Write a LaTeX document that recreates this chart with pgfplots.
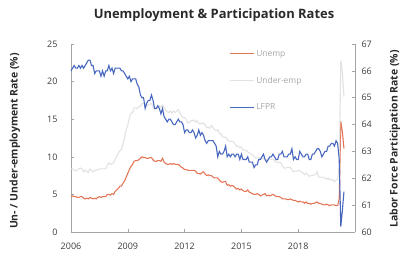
\documentclass[border=0pt]{standalone}
\usepackage{pgfplots}
\usepackage{pgfplotstable}
\pgfplotsset{compat=1.18}
\usepackage{fontspec}
\setmainfont{Open Sans}

\definecolor{unempc}{RGB}{228,118,88}
\definecolor{uempc}{RGB}{226,226,226}
\definecolor{lfprc}{RGB}{72,104,192}
\definecolor{axgray}{RGB}{165,165,165}
\definecolor{txtgray}{RGB}{60,60,60}

% monthly, Jan 2006 - Jun 2020
\pgfplotstableread[row sep=\\]{
v\\
4.7\\4.8\\4.7\\4.7\\4.6\\4.6\\4.7\\4.7\\4.5\\4.4\\4.5\\4.4\\
4.6\\4.5\\4.4\\4.5\\4.4\\4.6\\4.7\\4.6\\4.7\\4.7\\4.7\\5.0\\
5.0\\4.9\\5.1\\5.0\\5.4\\5.6\\5.8\\6.1\\6.1\\6.5\\6.8\\7.3\\
7.8\\8.3\\8.7\\9.0\\9.4\\9.5\\9.5\\9.6\\9.8\\10.0\\9.9\\9.9\\
9.8\\9.8\\9.9\\9.9\\9.6\\9.4\\9.4\\9.5\\9.5\\9.4\\9.8\\9.3\\
9.1\\9.0\\9.0\\9.1\\9.0\\9.1\\9.0\\9.0\\9.0\\8.8\\8.6\\8.5\\
8.3\\8.3\\8.2\\8.2\\8.2\\8.2\\8.2\\8.1\\7.8\\7.8\\7.7\\7.9\\
8.0\\7.7\\7.5\\7.6\\7.5\\7.5\\7.3\\7.2\\7.2\\7.2\\6.9\\6.7\\
6.6\\6.7\\6.7\\6.2\\6.3\\6.1\\6.2\\6.1\\5.9\\5.7\\5.8\\5.6\\
5.7\\5.5\\5.4\\5.4\\5.6\\5.3\\5.2\\5.1\\5.0\\5.0\\5.1\\5.0\\
4.8\\4.9\\5.0\\5.1\\4.8\\4.9\\4.8\\4.9\\5.0\\4.9\\4.7\\4.7\\
4.7\\4.6\\4.4\\4.4\\4.4\\4.3\\4.3\\4.4\\4.3\\4.2\\4.2\\4.1\\
4.0\\4.1\\4.0\\4.0\\3.8\\4.0\\3.8\\3.8\\3.7\\3.8\\3.8\\3.9\\
4.0\\3.8\\3.8\\3.7\\3.6\\3.6\\3.7\\3.6\\3.5\\3.6\\3.6\\3.6\\
3.5\\3.5\\4.4\\14.7\\13.3\\11.1\\
}\unemp

\pgfplotstableread[row sep=\\]{
v\\
8.4\\8.4\\8.2\\8.1\\8.2\\8.4\\8.5\\8.4\\8.0\\8.2\\8.1\\7.9\\
8.4\\8.2\\8.0\\8.2\\8.2\\8.3\\8.4\\8.4\\8.4\\8.4\\8.4\\8.8\\
9.2\\9.0\\9.1\\9.2\\9.7\\10.1\\10.5\\10.8\\11.0\\11.8\\12.6\\13.6\\
14.2\\15.2\\15.8\\15.9\\16.5\\16.5\\16.4\\16.7\\16.7\\17.1\\17.1\\17.1\\
16.7\\16.9\\17.0\\17.1\\16.6\\16.4\\16.4\\16.5\\16.8\\16.6\\16.9\\16.6\\
16.2\\16.0\\15.9\\16.1\\15.8\\16.1\\15.9\\16.1\\16.3\\15.8\\15.5\\15.2\\
15.2\\15.0\\14.5\\14.6\\14.8\\14.8\\14.9\\14.6\\14.8\\14.4\\14.4\\14.4\\
14.5\\14.2\\13.9\\13.9\\13.8\\14.2\\13.9\\13.6\\13.5\\13.6\\13.1\\13.1\\
12.7\\12.6\\12.6\\12.3\\12.1\\12.0\\12.1\\12.0\\11.7\\11.4\\11.4\\11.2\\
11.3\\10.9\\10.9\\10.8\\10.7\\10.5\\10.4\\10.3\\10.0\\9.8\\9.9\\9.9\\
9.8\\9.7\\9.8\\9.7\\9.6\\9.6\\9.7\\9.7\\9.7\\9.5\\9.3\\9.2\\
9.3\\9.2\\8.8\\8.5\\8.5\\8.6\\8.6\\8.6\\8.3\\8.0\\8.1\\8.1\\
8.2\\8.1\\8.0\\7.9\\7.6\\7.8\\7.6\\7.4\\7.5\\7.5\\7.6\\7.6\\
8.0\\7.3\\7.3\\7.3\\7.2\\7.2\\7.0\\7.2\\6.9\\7.0\\6.9\\6.7\\
6.9\\7.0\\8.7\\22.8\\21.2\\18.0\\
}\underemp

\pgfplotstableread[row sep=\\]{
v\\
66.0\\66.1\\66.2\\66.1\\66.1\\66.2\\66.1\\66.2\\66.1\\66.2\\66.3\\66.4\\
66.4\\66.2\\66.2\\65.9\\66.0\\66.0\\66.0\\65.8\\66.0\\65.8\\66.0\\66.0\\
66.2\\66.0\\66.1\\65.9\\66.1\\66.1\\66.1\\66.1\\66.0\\66.0\\65.9\\65.8\\
65.7\\65.8\\65.6\\65.7\\65.7\\65.7\\65.5\\65.4\\65.1\\65.0\\65.0\\64.6\\
64.8\\64.9\\64.9\\65.1\\64.9\\64.6\\64.6\\64.7\\64.6\\64.4\\64.6\\64.3\\
64.2\\64.1\\64.2\\64.2\\64.1\\64.0\\64.0\\64.1\\64.2\\64.1\\64.1\\64.0\\
63.7\\63.8\\63.8\\63.7\\63.7\\63.8\\63.7\\63.5\\63.6\\63.8\\63.6\\63.7\\
63.6\\63.4\\63.3\\63.4\\63.4\\63.4\\63.4\\63.3\\63.2\\62.8\\63.0\\62.9\\
62.9\\63.0\\63.2\\62.8\\62.9\\62.8\\62.9\\62.9\\62.8\\62.9\\62.9\\62.7\\
62.9\\62.7\\62.7\\62.7\\62.8\\62.6\\62.6\\62.6\\62.4\\62.5\\62.5\\62.7\\
62.7\\62.8\\62.9\\62.7\\62.6\\62.7\\62.8\\62.8\\62.9\\62.8\\62.7\\62.7\\
62.9\\62.9\\63.0\\62.8\\62.8\\62.8\\62.9\\62.9\\63.1\\62.7\\62.8\\62.7\\
62.7\\63.0\\62.9\\62.8\\62.8\\62.9\\62.9\\62.7\\62.7\\62.9\\62.9\\63.0\\
63.1\\63.1\\63.0\\62.8\\62.9\\63.0\\63.0\\63.2\\63.2\\63.3\\63.3\\63.2\\
63.4\\63.3\\62.7\\60.2\\60.8\\61.5\\
}\lfpr

\begin{document}
\begin{tikzpicture}
\pgfplotsset{
  every axis/.append style={
    scale only axis, width=284bp, height=188bp,
    xmin=2006, xmax=2021,
    axis line style={axgray, line width=0.8pt},
    tick style={axgray, line width=0.6pt},
    major tick length=3bp,
    tick label style={font=\fontsize{9}{10}\selectfont, text=txtgray},
    /pgf/number format/assume math mode=true,
    /pgf/number format/1000 sep={},
    clip=false,
  }
}
\begin{axis}[
  ymin=0, ymax=25,
  axis x line*=bottom, axis y line*=left,
  ytick={0,5,10,15,20,25},
  xtick={2006,2009,2012,2015,2018},
  xticklabel style={yshift=-7bp},
  yticklabel style={xshift=-10bp},
]
\addplot[unempc, line width=1.1pt] table[x expr=2006+\coordindex/12, y=v] {\unemp};
\addplot[uempc, line width=1.1pt] table[x expr=2006+\coordindex/12, y=v] {\underemp};
\end{axis}
\begin{axis}[
  ymin=60, ymax=67,
  axis y line*=right, axis x line=none,
  ytick={60,61,...,67},
  yticklabel style={xshift=3bp},
  legend style={draw=none, fill=none, at={(0.545,0.99)}, anchor=north west,
    font=\fontsize{8.5}{10}\selectfont, text=gray!70, row sep=15bp},
  legend cell align=left,
]
\addlegendimage{legend image code/.code={\draw[unempc, line width=1.3pt] (0bp,0bp) -- (24bp,0bp);}}
\addlegendentry{Unemp}
\addlegendimage{legend image code/.code={\draw[uempc, line width=1.3pt] (0bp,0bp) -- (24bp,0bp);}}
\addlegendentry{Under-emp}
\addlegendimage{legend image code/.code={\draw[lfprc, line width=1.3pt] (0bp,0bp) -- (24bp,0bp);}}
\addlegendentry{LFPR}
\addplot[draw=lfprc, line width=1.1pt, forget plot] table[x expr=2006+\coordindex/12, y=v] {\lfpr};
\end{axis}
\node[font=\bfseries\fontsize{13}{15}\selectfont, text=txtgray!70!black] at (143bp,217bp) {Unemployment \& Participation Rates};
\node[font=\bfseries\fontsize{10.5}{12}\selectfont, text=txtgray!70!black, rotate=90] at (-56bp,91bp) {Un- / Under-employment Rate (\%)};
\node[font=\bfseries\fontsize{10.5}{12}\selectfont, text=txtgray!70!black, rotate=90] at (324bp,93bp) {Labor Force Participation Rate (\%)};
\pgfresetboundingbox
\path[use as bounding box] (-71bp,-22bp) rectangle (336bp,232bp);
\end{tikzpicture}
\end{document}
